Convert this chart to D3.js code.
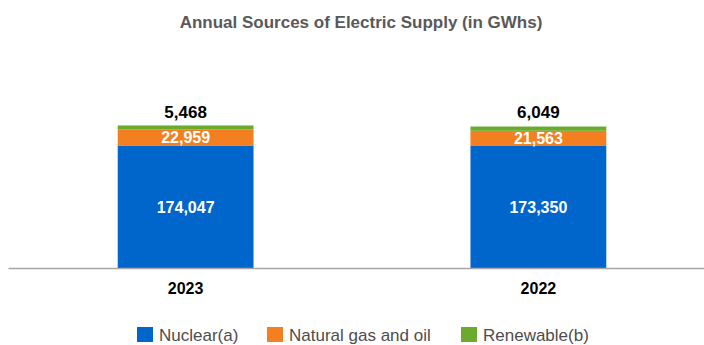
<!DOCTYPE html>
<html>
<head>
<meta charset="utf-8">
<script src="https://cdn.jsdelivr.net/npm/d3@7"></script>
<style>
  body { margin: 0; background: #fff; }
  text { font-family: "Liberation Sans", Arial, sans-serif; }
</style>
</head>
<body>
<svg id="chart" width="704" height="345"></svg>
<script>
// chart data
const years = ['2023', '2022'];
const seriesNames = ['Nuclear(a)', 'Natural gas and oil', 'Renewable(b)'];
const nuclear = [174047, 173350];
const gasOil = [22959, 21563];
const renewable = [5468, 6049];
const seriesColors = ['#0066cc', '#f47f20', '#6aab2e'];

const svg = d3.select('#chart');
const plot = {left: 8, right: 716, top: 92, bottom: 268};

const rows = years.map(function(y, i) {
    return {year: y, nuclear: nuclear[i], gas: gasOil[i], renew: renewable[i]};
});
const keys = ['nuclear', 'gas', 'renew'];
const stacked = d3.stack().keys(keys)(rows);

const x = d3.scaleBand()
    .domain(years)
    .range([plot.left, plot.right])
    .paddingInner(0.615)
    .paddingOuter(0.311);

const y = d3.scaleLinear()
    .domain([0, 250000])
    .range([plot.bottom, plot.top]);

// title
svg.append('text')
    .attr('x', 361)
    .attr('y', 28)
    .attr('text-anchor', 'middle')
    .style('font-size', '17px')
    .style('font-weight', 'bold')
    .style('fill', '#595959')
    .text('Annual Sources of Electric Supply (in GWhs)');

// bars
const layers = svg.append('g').selectAll('g')
    .data(stacked)
    .join('g')
    .attr('fill', function(d, i) { return seriesColors[i]; });

layers.selectAll('rect')
    .data(function(d) { return d; })
    .join('rect')
    .attr('x', function(d) { return x(d.data.year); })
    .attr('width', x.bandwidth())
    .attr('y', function(d) { return y(d[1]); })
    .attr('height', function(d) { return y(d[0]) - y(d[1]); });

// inner labels (nuclear, gas)
const fmt = d3.format(',');
stacked.slice(0, 2).forEach(function(layer) {
    svg.append('g').selectAll('text')
        .data(layer)
        .join('text')
        .attr('x', function(d) { return x(d.data.year) + x.bandwidth() / 2; })
        .attr('y', function(d) { return (y(d[0]) + y(d[1])) / 2 + 6; })
        .attr('text-anchor', 'middle')
        .style('font-size', '16px')
        .style('font-weight', 'bold')
        .style('fill', '#fff')
        .text(function(d) { return fmt(d.data[layer.key]); });
});

// renewable labels above the bars
svg.append('g').selectAll('text')
    .data(stacked[2])
    .join('text')
    .attr('x', function(d) { return x(d.data.year) + x.bandwidth() / 2; })
    .attr('y', 118)
    .attr('text-anchor', 'middle')
    .style('font-size', '17px')
    .style('font-weight', 'bold')
    .style('fill', '#000')
    .text(function(d) { return fmt(d.data.renew); });

// axis
const axis = svg.append('g')
    .attr('transform', 'translate(0,' + plot.bottom + ')')
    .call(d3.axisBottom(x).tickSize(0).tickPadding(15));
axis.select('.domain').attr('stroke', '#a6a6a6').attr('stroke-width', 1.5);
axis.selectAll('.tick text')
    .style('font-family', '"Liberation Sans", Arial, sans-serif')
    .style('font-size', '16px')
    .style('font-weight', 'bold')
    .style('fill', '#000');

// legend
const legendX = [137, 267, 461];
const legend = svg.append('g').selectAll('g')
    .data(seriesNames)
    .join('g')
    .attr('transform', function(d, i) { return 'translate(' + legendX[i] + ',327)'; });
legend.append('rect')
    .attr('width', 16)
    .attr('height', 15)
    .attr('fill', function(d, i) { return seriesColors[i]; });
legend.append('text')
    .attr('x', 22)
    .attr('y', 14)
    .style('font-size', '17px')
    .style('fill', '#4d4d4d')
    .text(function(d) { return d; });
</script>
</body>
</html>
